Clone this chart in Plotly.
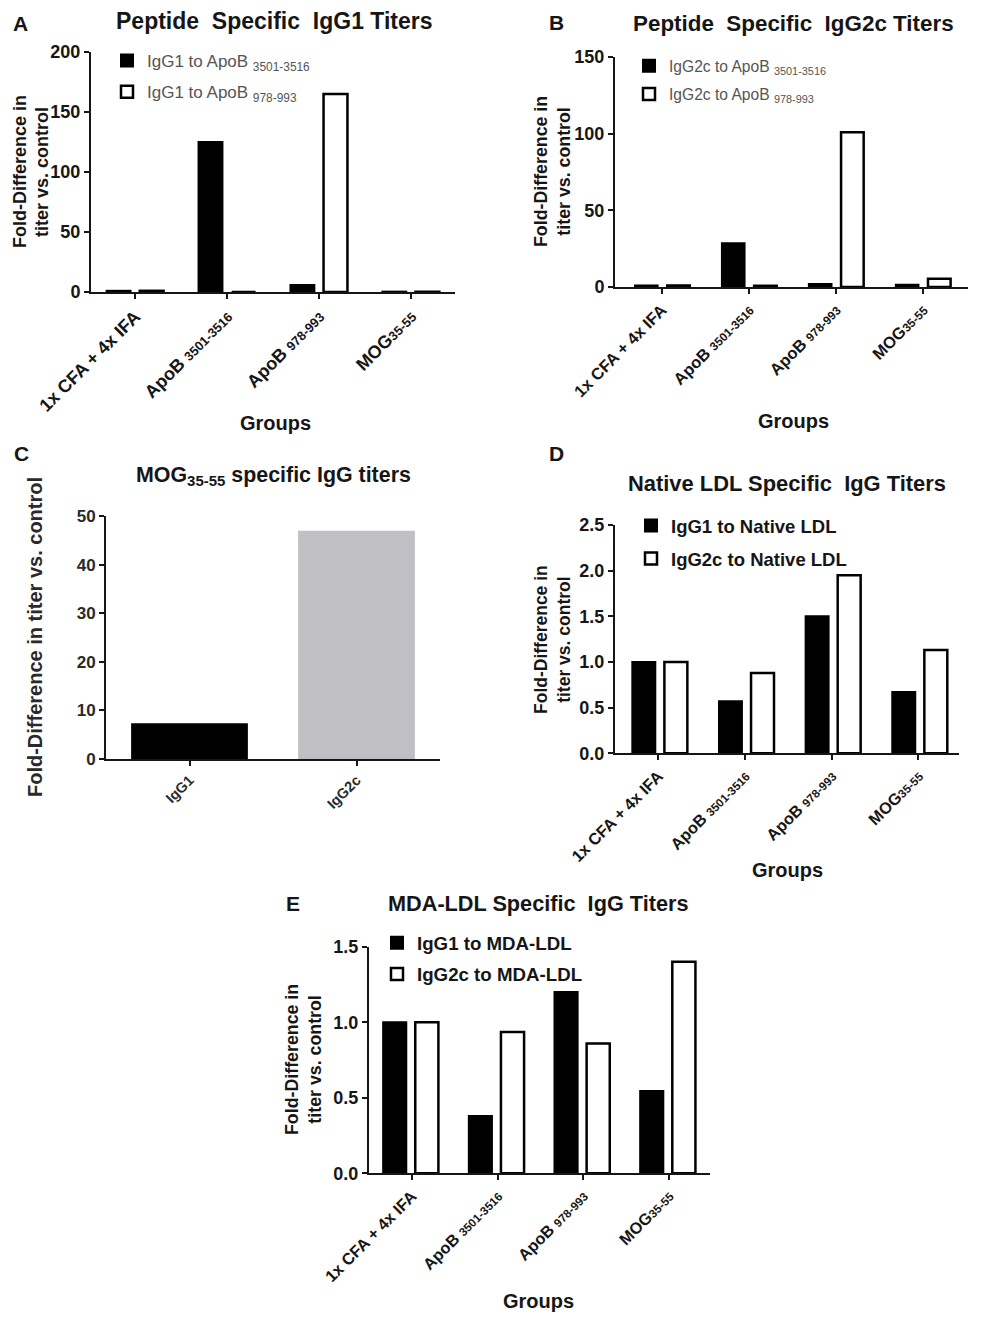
import plotly.graph_objects as go

# ---- data ----
groups = ["1x CFA + 4x IFA",
          "ApoB <span style='font-size:0.72em'>3501-3516</span>",
          "ApoB <span style='font-size:0.72em'>978-993</span>",
          "MOG<span style='font-size:0.72em'>35-55</span>"]

# A: peptide specific IgG1
igg1_apob3501 = [1.0, 125.0, 5.8, 0.3]
igg1_apob978 = [1.0, 0.0, 165.0, 0.2]

# B: peptide specific IgG2c
igg2c_apob3501 = [1.0, 28.5, 2.0, 1.5]
igg2c_apob978 = [1.0, 0.8, 101.0, 5.4]

# C: MOG35-55 specific IgG
mog_isotypes = ["IgG1", "IgG2c"]
mog_values = [7.2, 46.8]

# D: native LDL
igg1_native = [1.0, 0.57, 1.5, 0.67]
igg2c_native = [1.0, 0.88, 1.95, 1.13]

# E: MDA-LDL
igg1_mda = [1.0, 0.38, 1.2, 0.545]
igg2c_mda = [1.0, 0.935, 0.86, 1.40]

FONT = "Liberation Sans, Arial, sans-serif"
INK = "#161616"
# page body has an 8px margin, so the figure is 16px smaller than the window
W, H = 976, 1306
PAD = 8


def px(x):
    return (x - PAD) / W


def py(y):
    return 1 - (y - PAD) / H


fig = go.Figure()


def pair(xa, ya, leg, names, vals, width, off_black, off_white):
    fig.add_trace(go.Bar(x=groups, y=vals[0], name=names[0], xaxis=xa, yaxis=ya,
                         legend=leg, legendgroup=leg + "a",
                         marker=dict(color="black", line=dict(color="black", width=2)),
                         width=width, offset=off_black))
    fig.add_trace(go.Bar(x=groups, y=vals[1], name=names[1], xaxis=xa, yaxis=ya,
                         legend=leg, legendgroup=leg + "b",
                         marker=dict(color="white", line=dict(color="black", width=2.5)),
                         width=width, offset=off_white))


pair("x", "y", "legend",
     ["IgG1 to ApoB <sub>3501-3516</sub>", "IgG1 to ApoB <sub>978-993</sub>"],
     [igg1_apob3501, igg1_apob978], 0.26, -0.31, 0.05)
pair("x2", "y2", "legend2",
     ["IgG2c to ApoB <sub>3501-3516</sub>", "IgG2c to ApoB <sub>978-993</sub>"],
     [igg2c_apob3501, igg2c_apob978], 0.26, -0.31, 0.06)
fig.add_trace(go.Bar(x=mog_isotypes, y=mog_values, xaxis="x3", yaxis="y3",
                     showlegend=False, width=0.69,
                     marker=dict(color=["black", "#bfbfc4"],
                                 line=dict(color=["black", "#bfbfc4"], width=1.5))))
pair("x4", "y4", "legend4",
     ["IgG1 to Native LDL", "IgG2c to Native LDL"],
     [igg1_native, igg2c_native], 0.265, -0.30, 0.07)
pair("x5", "y5", "legend5",
     ["IgG1 to MDA-LDL", "IgG2c to MDA-LDL"],
     [igg1_mda, igg2c_mda], 0.27, -0.335, 0.04)

axis_common = dict(showline=True, linecolor=INK, linewidth=2, ticks="outside",
                   tickwidth=2, tickcolor=INK, ticklen=5, showgrid=False,
                   zeroline=False, fixedrange=True, automargin=False)


def xax(l, r, rng, size, ya, color=INK):
    return dict(axis_common, domain=[px(l), px(r)], range=rng, type="category",
                anchor=ya, tickangle=-45,
                tickfont=dict(family=FONT, size=size, color=color, weight="bold"))


def yax(top, bottom, rng, dtick, size, xa, fmt=None, color=INK):
    d = dict(axis_common, domain=[py(bottom), py(top)], range=rng, dtick=dtick,
             anchor=xa, tickfont=dict(family=FONT, size=size, color=color, weight="bold"))
    if fmt:
        d["tickformat"] = fmt
    return d


def leg(left, top, size, gap, color=INK, weight="bold"):
    return dict(x=px(left), y=py(top), xanchor="left", yanchor="top",
                bgcolor="rgba(0,0,0,0)", tracegroupgap=gap, itemwidth=30,
                font=dict(family=FONT, size=size, color=color, weight=weight))


fig.update_layout(
    width=W, height=H, margin=dict(l=0, r=0, t=0, b=0, autoexpand=False),
    paper_bgcolor="white", plot_bgcolor="white", barmode="overlay",
    font=dict(family=FONT, color=INK),
    xaxis=xax(91, 455, [-0.48, 3.48], 18, "y"),
    yaxis=yax(52, 292, [0, 200], 50, 18, "x"),
    xaxis2=xax(615, 968, [-0.54, 3.52], 16.5, "y2"),
    yaxis2=yax(57, 287, [0, 150], 50, 18, "x2"),
    xaxis3=xax(106, 440, [-0.5, 1.5], 14.5, "y3", "#2a2a2a"),
    yaxis3=yax(516, 759, [0, 50], 10, 17, "x3", color="#2a2a2a"),
    xaxis4=xax(615, 959, [-0.5, 3.47], 16.3, "y4"),
    yaxis4=yax(525, 753.3, [0, 2.5], 0.5, 18, "x4", ".1f"),
    xaxis5=xax(369, 710, [-0.5, 3.48], 16.3, "y5"),
    yaxis5=yax(946.7, 1173.3, [0, 1.5], 0.5, 18, "x5", ".1f"),
    legend=leg(107, 43, 17, 6, "#555555", "normal"),
    legend2=leg(629, 49, 15.6, 5, "#555555", "normal"),
    legend4=leg(631, 507, 18.5, 6),
    legend5=leg(377, 924, 18.7, 4),
)

ann = []


def text(x, y, s, size, angle=0, bold=True, color=INK):
    ann.append(dict(x=px(x), y=py(y), xref="paper", yref="paper", text=s,
                    showarrow=False, textangle=angle, xanchor="center", yanchor="middle",
                    font=dict(family=FONT, size=size, color=color,
                              weight="bold" if bold else "normal")))


# panel letters
text(20, 23, "A", 21)
text(556, 22, "B", 21)
text(21, 453, "C", 21)
text(556, 453, "D", 21)
text(293, 903, "E", 21)

# panel titles
text(274, 21, "Peptide&nbsp; Specific&nbsp; IgG1 Titers", 23)
text(793, 24, "Peptide&nbsp; Specific&nbsp; IgG2c Titers", 22.4)
text(273, 476, "MOG<sub>35-55</sub> specific IgG titers", 21.4)
text(787, 483, "Native LDL Specific&nbsp; IgG Titers", 21.9)
text(538, 903, "MDA-LDL Specific&nbsp; IgG Titers", 21.7)

# y-axis titles
text(20, 172, "Fold-Difference in", 18, -90)
text(42, 172, "titer vs. control", 18, -90)
text(553, 172, "Fold-Difference in<br>titer vs. control", 17.8, -90)
text(35, 637, "Fold-Difference in titer vs. control", 20, -90, color="#2a2a2a")
text(552, 640, "Fold-Difference in<br>titer vs. control", 17.5, -90)
text(303, 1060, "Fold-Difference in<br>titer vs. control", 17.8, -90)

# x-axis titles
text(275, 423, "Groups", 20)
text(793, 421, "Groups", 20)
text(787, 870, "Groups", 20)
text(538, 1301, "Groups", 20)

fig.update_layout(annotations=ann)
fig.write_html("out.html")
